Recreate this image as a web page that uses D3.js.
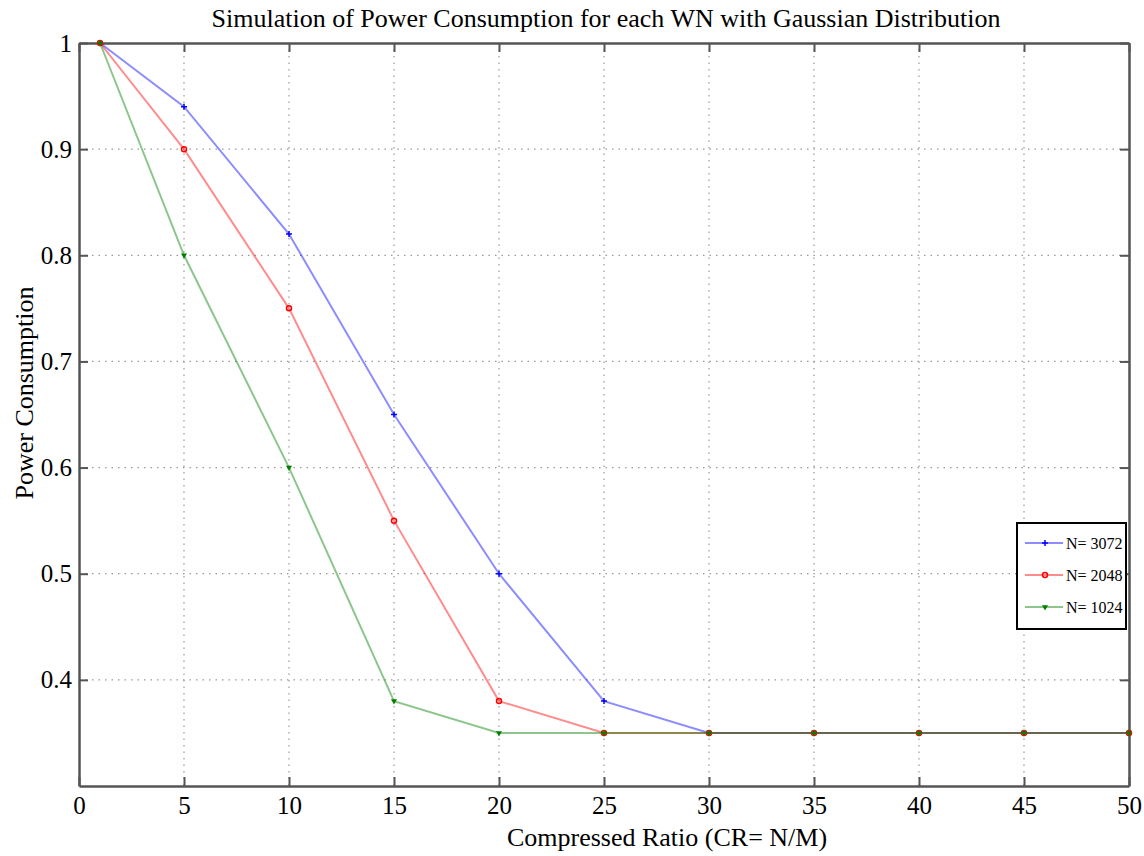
<!DOCTYPE html>
<html>
<head>
<meta charset="utf-8">
<script src="https://cdn.jsdelivr.net/npm/d3@7"></script>
<style>
  body { margin: 0; background: #fff; }
</style>
</head>
<body>
<div id="chart"></div>
<script>
// data
const ratios   = [1, 5, 10, 15, 20, 25, 30, 35, 40, 45, 50];
const n3072    = [1, 0.94, 0.82, 0.65, 0.50, 0.38, 0.35, 0.35, 0.35, 0.35, 0.35];
const n2048    = [1, 0.90, 0.75, 0.55, 0.38, 0.35, 0.35, 0.35, 0.35, 0.35, 0.35];
const n1024    = [1, 0.80, 0.60, 0.38, 0.35, 0.35, 0.35, 0.35, 0.35, 0.35, 0.35];
const xTicks   = [0, 5, 10, 15, 20, 25, 30, 35, 40, 45, 50];
const yTicks   = [0.4, 0.5, 0.6, 0.7, 0.8, 0.9, 1];

const series = [
  { name: "N= 3072", values: n3072, color: "#0000ff", marker: "plus" },
  { name: "N= 2048", values: n2048, color: "#ff0000", marker: "circle" },
  { name: "N= 1024", values: n1024, color: "#008000", marker: "star" }
];

const FONT = "'Liberation Serif', 'Times New Roman', serif";
const width = 1144, height = 856;
const margin = { top: 43, right: 15, bottom: 70, left: 79 };

const x = d3.scaleLinear().domain([0, 50]).range([margin.left, width - margin.right]);
const y = d3.scaleLinear().domain([0.3, 1]).range([height - margin.bottom, margin.top]);

const svg = d3.select("#chart").append("svg")
  .attr("width", width)
  .attr("height", height)
  .style("font-family", FONT);

// grid
svg.append("g")
  .selectAll("line")
  .data(xTicks.filter(d => d > 0 && d < 50))
  .join("line")
    .attr("x1", d => x(d)).attr("x2", d => x(d))
    .attr("y1", y(1)).attr("y2", y(0.3))
    .attr("stroke", "#999").attr("stroke-width", 1.2)
    .attr("stroke-dasharray", "1.5,5");

svg.append("g")
  .selectAll("line")
  .data(yTicks.filter(d => d < 1))
  .join("line")
    .attr("x1", x(0)).attr("x2", x(50))
    .attr("y1", d => y(d)).attr("y2", d => y(d))
    .attr("stroke", "#999").attr("stroke-width", 1.2)
    .attr("stroke-dasharray", "1.5,5");

// axes, MATLAB style: ticks inward on all four sides
const tickLen = 9;
const styleTicks = g => g.attr("font-family", FONT)
  .selectAll(".tick text").attr("font-family", FONT).attr("fill", "#000").style("font-size", "25px");

svg.append("g")
  .attr("transform", `translate(0,${y(0.3)})`)
  .call(d3.axisBottom(x).tickValues(xTicks).tickSize(-tickLen).tickPadding(10).tickSizeOuter(0))
  .call(styleTicks);

svg.append("g")
  .attr("transform", `translate(0,${y(1)})`)
  .call(d3.axisTop(x).tickValues(xTicks).tickSize(-tickLen).tickFormat("").tickSizeOuter(0));

svg.append("g")
  .attr("transform", `translate(${x(0)},0)`)
  .call(d3.axisLeft(y).tickValues(yTicks).tickSize(-tickLen).tickPadding(7).tickSizeOuter(0)
    .tickFormat(d => d === 1 ? "1" : d3.format(".1f")(d)))
  .call(styleTicks);

svg.append("g")
  .attr("transform", `translate(${x(50)},0)`)
  .call(d3.axisRight(y).tickValues(yTicks).tickSize(-tickLen).tickFormat("").tickSizeOuter(0));

svg.selectAll(".domain").attr("stroke", "#555").attr("stroke-width", 2.5);
svg.selectAll(".tick line").attr("stroke", "#555").attr("stroke-width", 2);

// lines
const line = d3.line().x(d => x(d[0])).y(d => y(d[1]));

function drawMarker(g, type, color) {
  if (type === "plus") {
    g.append("path").attr("d", "M-3,0H3M0,-3V3").attr("stroke", color).attr("stroke-width", 1.5);
  } else if (type === "circle") {
    g.append("circle").attr("r", 2.5).attr("fill", "none").attr("stroke", color).attr("stroke-width", 1.5);
  } else {
    g.append("path").attr("d", d3.symbol(d3.symbolTriangle, 16)()).attr("transform", "rotate(180)")
      .attr("fill", color);
  }
}

series.forEach(s => {
  const pts = ratios.map((r, i) => [r, s.values[i]]);
  svg.append("path")
    .datum(pts)
    .attr("fill", "none")
    .attr("stroke", s.color)
    .attr("stroke-opacity", 0.45)
    .attr("stroke-width", 2)
    .attr("d", line);
  svg.append("g").selectAll("g")
    .data(pts)
    .join("g")
      .attr("transform", d => `translate(${x(d[0])},${y(d[1])})`)
      .each(function() { drawMarker(d3.select(this), s.marker, s.color); });
});

// title and labels
svg.append("text")
  .attr("x", 606)
  .attr("y", 27)
  .attr("text-anchor", "middle")
  .style("font-size", "26px")
  .text("Simulation of Power Consumption for each WN with Gaussian Distribution");

svg.append("text")
  .attr("x", 667)
  .attr("y", 846)
  .attr("text-anchor", "middle")
  .style("font-size", "26px")
  .text("Compressed Ratio (CR= N/M)");

svg.append("text")
  .attr("transform", "rotate(-90)")
  .attr("x", -393)
  .attr("y", 33)
  .attr("text-anchor", "middle")
  .style("font-size", "26px")
  .text("Power Consumption");

// legend
const legend = svg.append("g").attr("transform", "translate(1017,523)");
legend.append("rect")
  .attr("width", 109).attr("height", 106)
  .attr("fill", "#fff").attr("stroke", "#000").attr("stroke-width", 2);

series.forEach((s, i) => {
  const ly = 20 + i * 32;
  const g = legend.append("g").attr("transform", `translate(0,${ly})`);
  g.append("line").attr("x1", 8).attr("x2", 46).attr("y1", 0).attr("y2", 0)
    .attr("stroke", s.color).attr("stroke-opacity", 0.45).attr("stroke-width", 2);
  g.append("g").attr("transform", "translate(28,0)")
    .each(function() { drawMarker(d3.select(this), s.marker, s.color); });
  g.append("text").attr("x", 49).attr("y", 0).attr("dy", "0.35em")
    .style("font-size", "16px").text(s.name);
});
</script>
</body>
</html>
